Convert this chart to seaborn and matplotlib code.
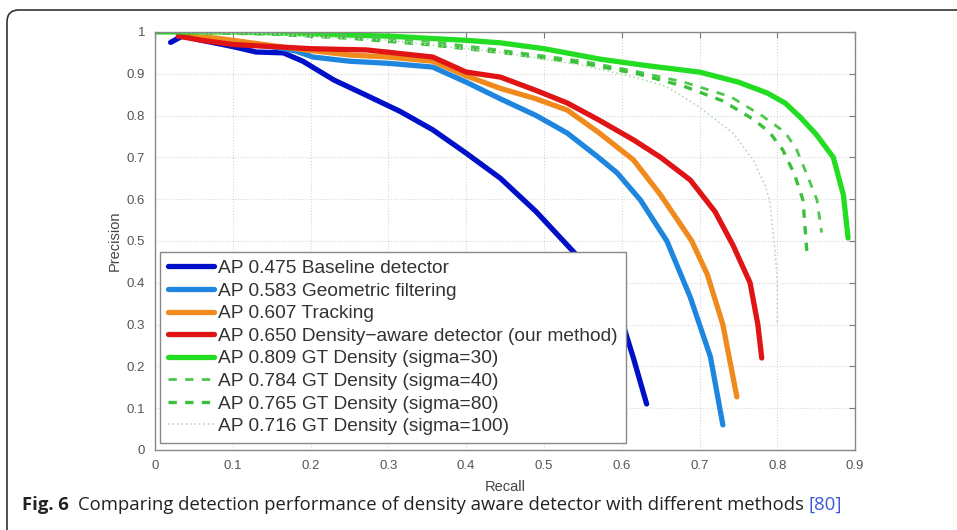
import numpy as np
import pandas as pd
import seaborn as sns
import matplotlib
matplotlib.use("Agg")
import matplotlib.pyplot as plt
from matplotlib.patches import FancyBboxPatch
from matplotlib.transforms import IdentityTransform

# precision/recall curves
base_r = [0.02, 0.035, 0.06, 0.10, 0.13, 0.165, 0.19, 0.23, 0.27, 0.315, 0.357, 0.40, 0.444, 0.49, 0.53, 0.56, 0.59, 0.60, 0.615, 0.632]
base_p = [0.975, 0.99, 0.98, 0.965, 0.952, 0.95, 0.93, 0.885, 0.85, 0.81, 0.766, 0.71, 0.65, 0.57, 0.49, 0.43, 0.35, 0.31, 0.22, 0.11]

geo_r = [0.03, 0.06, 0.10, 0.15, 0.18, 0.203, 0.25, 0.30, 0.357, 0.40, 0.444, 0.49, 0.53, 0.57, 0.594, 0.624, 0.658, 0.688, 0.714, 0.73]
geo_p = [0.99, 0.985, 0.975, 0.965, 0.955, 0.94, 0.93, 0.925, 0.916, 0.88, 0.84, 0.80, 0.758, 0.70, 0.663, 0.598, 0.50, 0.366, 0.223, 0.06]

trk_r = [0.04, 0.08, 0.12, 0.16, 0.203, 0.25, 0.30, 0.357, 0.40, 0.444, 0.49, 0.53, 0.57, 0.615, 0.65, 0.69, 0.71, 0.73, 0.748]
trk_p = [0.99, 0.985, 0.975, 0.965, 0.955, 0.945, 0.94, 0.93, 0.895, 0.865, 0.84, 0.813, 0.76, 0.694, 0.61, 0.50, 0.42, 0.30, 0.127]

den_r = [0.03, 0.06, 0.10, 0.15, 0.20, 0.272, 0.357, 0.40, 0.444, 0.49, 0.53, 0.57, 0.615, 0.65, 0.688, 0.72, 0.743, 0.765, 0.775, 0.78]
den_p = [0.99, 0.98, 0.97, 0.965, 0.96, 0.957, 0.94, 0.904, 0.892, 0.86, 0.83, 0.79, 0.742, 0.70, 0.646, 0.57, 0.49, 0.40, 0.30, 0.22]

gt30_r = [0.0, 0.10, 0.15, 0.20, 0.30, 0.40, 0.444, 0.50, 0.572, 0.63, 0.70, 0.75, 0.787, 0.81, 0.829, 0.85, 0.872, 0.885, 0.891]
gt30_p = [1.0, 1.0, 0.998, 0.995, 0.99, 0.98, 0.974, 0.96, 0.935, 0.92, 0.904, 0.88, 0.854, 0.83, 0.797, 0.755, 0.70, 0.61, 0.507]

gt40_r = [0.0, 0.15, 0.25, 0.35, 0.45, 0.55, 0.62, 0.68, 0.74, 0.78, 0.81, 0.825, 0.84, 0.851, 0.857]
gt40_p = [1.0, 0.998, 0.99, 0.978, 0.955, 0.93, 0.905, 0.88, 0.845, 0.80, 0.76, 0.718, 0.65, 0.598, 0.52]

gt80_r = [0.0, 0.15, 0.25, 0.35, 0.45, 0.55, 0.62, 0.68, 0.73, 0.77, 0.79, 0.807, 0.822, 0.833, 0.838]
gt80_p = [1.0, 0.995, 0.985, 0.97, 0.95, 0.925, 0.90, 0.87, 0.835, 0.79, 0.76, 0.718, 0.66, 0.598, 0.475]

gt100_r = [0.0, 0.15, 0.30, 0.45, 0.55, 0.62, 0.658, 0.70, 0.743, 0.769, 0.785, 0.79, 0.797, 0.80, 0.80]
gt100_p = [1.0, 0.995, 0.98, 0.95, 0.92, 0.89, 0.869, 0.82, 0.758, 0.694, 0.63, 0.598, 0.478, 0.40, 0.30]

labels = ["AP 0.475 Baseline detector",
          "AP 0.583 Geometric filtering",
          "AP 0.607 Tracking",
          "AP 0.650 Density\u2212aware detector (our method)",
          "AP 0.809 GT Density (sigma=30)",
          "AP 0.784 GT Density (sigma=40)",
          "AP 0.765 GT Density (sigma=80)",
          "AP 0.716 GT Density (sigma=100)"]

x_ticks = [0, 0.1, 0.2, 0.3, 0.4, 0.5, 0.6, 0.7, 0.8, 0.9]
y_ticks = [0, 0.1, 0.2, 0.3, 0.4, 0.5, 0.6, 0.7, 0.8, 0.9, 1]

sns.set_style("white")
plt.rcParams['font.family'] = ['Liberation Sans', 'DejaVu Sans']

fig = plt.figure(figsize=(9.57, 5.30), dpi=100)
ax = fig.add_axes([0.162, 0.151, 0.7315, 0.7887])

styles = [
    (base_r, base_p, '#0010c8', 3.8, '-'),
    (geo_r, geo_p, '#1f86e0', 3.8, '-'),
    (trk_r, trk_p, '#f08a1c', 3.8, '-'),
    (den_r, den_p, '#e01414', 3.8, '-'),
    (gt30_r, gt30_p, '#22dd22', 3.8, '-'),
    (gt40_r, gt40_p, '#4cc84c', 2.0, (0, (3, 3))),
    (gt80_r, gt80_p, '#3cc03c', 2.4, (0, (2.5, 2.5))),
    (gt100_r, gt100_p, '#b5dcb5', 1.2, ':'),
]

for (r, p, c, lw, ls), lab in zip(styles, labels):
    df = pd.DataFrame({'Recall': r, 'Precision': p})
    sns.lineplot(data=df, x='Recall', y='Precision', ax=ax, color=c,
                 linewidth=lw, linestyle=ls, estimator=None, sort=False,
                 label=lab)

ax.set_xlim(0, 0.9)
ax.set_ylim(0, 1)
ax.set_xticks(x_ticks)
ax.set_yticks(y_ticks)
ax.set_xticklabels([f"{t:g}" for t in x_ticks])
ax.set_yticklabels([f"{t:g}" for t in y_ticks])
ax.tick_params(direction='in', length=4, color='#777777', labelcolor='#555555',
               labelsize=9.5, top=True, right=True, pad=7)
ax.grid(True, linestyle=':', color='#d6d6d6', linewidth=0.8)
for s in ax.spines.values():
    s.set_color('#888888')
    s.set_linewidth(1.0)
ax.set_xlabel("Recall", fontsize=10.5, color='#444444', labelpad=6)
ax.set_ylabel("Precision", fontsize=10.5, color='#444444', labelpad=4)

leg = ax.legend(loc='lower left', bbox_to_anchor=(0.007, 0.017), borderaxespad=0,
                fancybox=False, framealpha=1, edgecolor='#888888', fontsize=13.8,
                handlelength=2.4, handletextpad=0.25, labelspacing=0.27,
                borderpad=0.4)
for t in leg.get_texts():
    t.set_color('#333333')

# rounded frame around figure + caption
frame = FancyBboxPatch((7, -30), 1100, 550, boxstyle='round,pad=0,rounding_size=12',
                       transform=IdentityTransform(), fill=False,
                       edgecolor='#333333', linewidth=1.2)
fig.patches.append(frame)

cap_y = 505
fs = 13.3
fig.canvas.draw()
rend = fig.canvas.get_renderer()
t1 = fig.text(22 / 957, 1 - cap_y / 530, "Fig. 6", fontsize=fs, fontweight='bold',
              family=['Open Sans', 'DejaVu Sans'], va='center', color='#222222')
x = t1.get_window_extent(rend).x1 + 9
t2 = fig.text(x / 957, 1 - cap_y / 530,
              "Comparing detection performance of density aware detector with different methods ",
              fontsize=fs, family=['Open Sans', 'DejaVu Sans'], va='center', color='#222222')
x = t2.get_window_extent(rend).x1
fig.text(x / 957, 1 - cap_y / 530, "[80]", fontsize=fs,
         family=['Open Sans', 'DejaVu Sans'], va='center', color='#3a5bd9')

fig.savefig("out.png", dpi=100)
